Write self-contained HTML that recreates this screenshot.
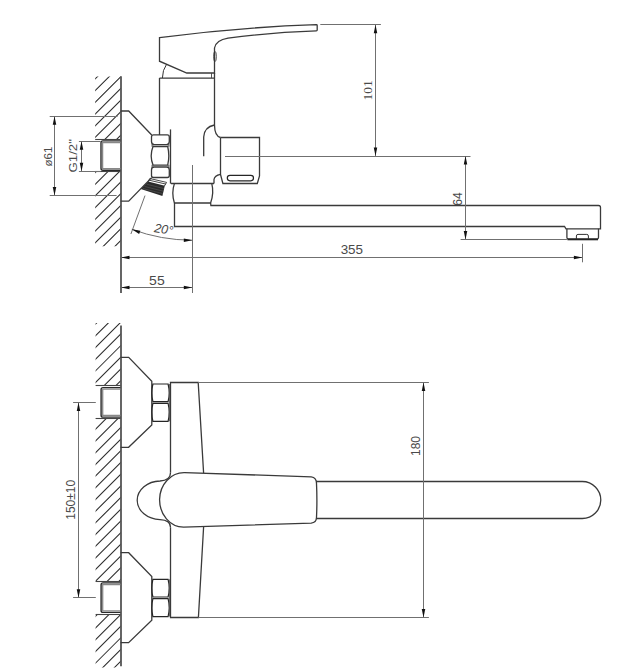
<!DOCTYPE html>
<html><head><meta charset="utf-8"><style>
html,body{margin:0;padding:0;background:#fff;}
svg{display:block;}
</style></head><body>
<svg width="641" height="670" viewBox="0 0 641 670">
<rect width="641" height="670" fill="#fff"/>
<clipPath id="h1"><rect x="95.2" y="76.5" width="25.799999999999997" height="63.0"/><rect x="95.2" y="171.5" width="25.799999999999997" height="74.80000000000001"/></clipPath>
<path clip-path="url(#h1)" d="M93.20,69.20L123.00,39.40M93.20,80.90L123.00,51.10M93.20,92.60L123.00,62.80M93.20,104.30L123.00,74.50M93.20,116.00L123.00,86.20M93.20,127.70L123.00,97.90M93.20,139.40L123.00,109.60M93.20,151.10L123.00,121.30M93.20,162.80L123.00,133.00M93.20,174.50L123.00,144.70M93.20,186.20L123.00,156.40M93.20,197.90L123.00,168.10M93.20,209.60L123.00,179.80M93.20,221.30L123.00,191.50M93.20,233.00L123.00,203.20M93.20,244.70L123.00,214.90M93.20,256.40L123.00,226.60M93.20,268.10L123.00,238.30M93.20,279.80L123.00,250.00M93.20,291.50L123.00,261.70M93.20,303.20L123.00,273.40" stroke="#2a2a2a" stroke-width="1.05" fill="none"/>
<line x1="95.2" y1="139.5" x2="121.0" y2="139.5" stroke="#444" stroke-width="1.1"/>
<line x1="95.2" y1="171.5" x2="121.0" y2="171.5" stroke="#444" stroke-width="1.1"/>
<line x1="121.0" y1="76.2" x2="121.0" y2="293" stroke="#555" stroke-width="1.8"/>
<path d="M120.4,140.9H102.9Q101,140.9 101,142.8V168.3Q101,170.2 102.9,170.2H120.4" stroke="#2a2a2a" stroke-width="1.4" fill="none"/>
<path d="M120.4,142.5H102.6V168.6H120.4" stroke="#888" stroke-width="1.3" fill="none"/>
<path d="M120.6,111H128.7L151.7,135M151.6,177.6L128.7,201.2H120.6" stroke="#3a3a3a" stroke-width="1.3" fill="none"/>
<path d="M151.4,143.6h2v3.2h-2zM167.6,143.6h2v3.2h-2zM151.4,164.8h2v3.2h-2zM167.6,164.8h2v3.2h-2z" fill="#8a8a8a"/>
<path d="M153.5,134.9H167.3Q169.3,134.9 169.3,137V141.6Q169.3,144.6 166.5,144.6H154.3Q151.5,144.6 151.5,141.6V137Q151.5,134.9 153.5,134.9Z" stroke="#3a3a3a" stroke-width="1.3" fill="none"/>
<path d="M153,146.5H167.7Q169.9,155.8 167.7,165.1H153Q149.4,155.8 153,146.5Z" stroke="#3a3a3a" stroke-width="1.3" fill="none"/>
<path d="M154.3,167H166.5Q169.3,167 169.3,170V175.4Q169.3,177.5 167.3,177.5H153.5Q151.5,177.5 151.5,175.4V170Q151.5,167 154.3,167Z" stroke="#3a3a3a" stroke-width="1.3" fill="none"/>
<polygon points="148.2,181.6 164.8,185.7 162.4,195.9 140.8,188.9" fill="#2a2a2a"/>
<path d="M146.6,184.2L163.9,188.6M144.6,186.5L163.3,191.2M143,188.6L162.8,193.6" stroke="#5a5a5a" stroke-width="0.6" fill="none"/>
<path d="M149.8,178.5L166.6,182.4L164.4,186M149.8,178.5L148.2,181.6M149.2,180.2L165.9,184.1" stroke="#333" stroke-width="0.9" fill="none"/>
<line x1="170.5" y1="129.4" x2="170.5" y2="183.6" stroke="#3a3a3a" stroke-width="1.3" fill="none"/>
<path d="M159.5,78.1H214.5M159.5,78.1V135M214.5,73V125" stroke="#3a3a3a" stroke-width="1.3" fill="none"/>
<path d="M159.5,37.6Q237.9,27.3 316.4,24.7Q317.2,24.7 317.2,25.5V30.1Q317.2,30.9 316.4,30.9Q270,32.5 228,38.2Q216,40.2 214.5,48V73H186.8L159.5,61.2Z" stroke="#3a3a3a" stroke-width="1.3" fill="none"/>
<ellipse cx="215" cy="56.5" rx="1.3" ry="5" stroke="#333" stroke-width="0.9" fill="none"/>
<line x1="211.5" y1="73" x2="211.5" y2="78" stroke="#444" stroke-width="0.9"/>
<path d="M166.5,64.4Q162.5,70 162.4,78" stroke="#333" stroke-width="1" fill="none"/>
<path d="M214.5,125Q204.2,127 203.7,137V156.2" stroke="#3a3a3a" stroke-width="1.3" fill="none"/>
<path d="M214.5,125Q214.6,136 220.5,137.5" stroke="#3a3a3a" stroke-width="1.3" fill="none"/>
<path d="M220.5,137.5H259.5V176L257.3,183.5H222.9L220.5,174.3V137.5" stroke="#3a3a3a" stroke-width="1.3" fill="none"/>
<rect x="227.3" y="175.4" width="26.2" height="5.4" rx="2.7" stroke="#262626" stroke-width="1.2" fill="none"/>
<path d="M220.5,174.3Q214.5,175.5 214,179.5V183.5" stroke="#3a3a3a" stroke-width="1.3" fill="none"/>
<line x1="170.9" y1="183.5" x2="214" y2="183.5" stroke="#3a3a3a" stroke-width="1.3" fill="none"/>
<path d="M174.4,183.6Q171.2,193 174.4,203M211.8,183.6Q214.2,193 210.6,203M174.4,203H210.6" stroke="#3a3a3a" stroke-width="1.3" fill="none"/>
<path d="M174.5,203V226.5H564.5L566,228.8H600.5V207.5Q600.5,205.5 598.5,205.5H210.9L210.6,203" stroke="#3a3a3a" stroke-width="1.3" fill="none"/>
<path d="M566.9,228.8V237.6Q566.9,239 568.3,239H597.1Q598.5,239 598.5,237.6V228.8" stroke="#3a3a3a" stroke-width="1.3" fill="none"/>
<line x1="567.5" y1="239.5" x2="598" y2="239.5" stroke="#222" stroke-width="1.6"/>
<path d="M576.4,239V236Q576.4,234.4 578,234.4H586.8Q588.4,234.4 588.4,236V239" stroke="#333" stroke-width="1" fill="none"/>
<line x1="320.3" y1="24.5" x2="380.9" y2="24.5" stroke="#707070" stroke-width="1" fill="none"/>
<line x1="375.5" y1="24.7" x2="375.5" y2="156" stroke="#707070" stroke-width="1" fill="none"/>
<polygon points="375.50,24.70 377.25,33.20 373.75,33.20" fill="#111"/>
<polygon points="375.50,156.00 373.75,147.50 377.25,147.50" fill="#111"/>
<line x1="225" y1="156.5" x2="470.5" y2="156.5" stroke="#707070" stroke-width="1" fill="none"/>
<text transform="translate(372,90.35) rotate(-90) scale(1.07,1)" text-anchor="middle" font-family="Liberation Serif, sans-serif" font-size="12.6" fill="#4a4a4a" >101</text>
<line x1="465.5" y1="156" x2="465.5" y2="239.4" stroke="#707070" stroke-width="1" fill="none"/>
<polygon points="465.50,156.00 467.25,164.50 463.75,164.50" fill="#111"/>
<polygon points="465.50,239.40 463.75,230.90 467.25,230.90" fill="#111"/>
<line x1="460.6" y1="239.5" x2="566.9" y2="239.5" stroke="#707070" stroke-width="1" fill="none"/>
<text transform="translate(462.2,199.0) rotate(-90)" text-anchor="middle" font-family="Liberation Sans, sans-serif" font-size="12" fill="#4a4a4a" >64</text>
<line x1="121.0" y1="257.5" x2="582.4" y2="257.5" stroke="#707070" stroke-width="1" fill="none"/>
<polygon points="121.00,257.50 129.50,255.75 129.50,259.25" fill="#111"/>
<polygon points="582.40,257.50 573.90,259.25 573.90,255.75" fill="#111"/>
<line x1="582.5" y1="243.8" x2="582.5" y2="262.3" stroke="#707070" stroke-width="1" fill="none"/>
<text transform="translate(351.85,254.2) scale(1.12,1)" text-anchor="middle" font-family="Liberation Sans, sans-serif" font-size="12" fill="#4a4a4a" >355</text>
<line x1="121.0" y1="287.5" x2="192.3" y2="287.5" stroke="#707070" stroke-width="1" fill="none"/>
<polygon points="121.00,287.50 129.50,285.75 129.50,289.25" fill="#111"/>
<polygon points="192.30,287.50 183.80,289.25 183.80,285.75" fill="#111"/>
<line x1="192.5" y1="165" x2="192.5" y2="293" stroke="#707070" stroke-width="1" fill="none"/>
<text transform="translate(156.9,284.5) scale(1.17,1)" text-anchor="middle" font-family="Liberation Sans, sans-serif" font-size="12" fill="#4a4a4a" >55</text>
<line x1="49.7" y1="116.5" x2="117.5" y2="116.5" stroke="#707070" stroke-width="1" fill="none"/>
<line x1="49.7" y1="195.5" x2="116.6" y2="195.5" stroke="#707070" stroke-width="1" fill="none"/>
<line x1="54.5" y1="116.3" x2="54.5" y2="195.5" stroke="#707070" stroke-width="1" fill="none"/>
<polygon points="54.50,116.30 56.25,124.80 52.75,124.80" fill="#111"/>
<polygon points="54.50,195.50 52.75,187.00 56.25,187.00" fill="#111"/>
<text transform="translate(51.6,156.5) rotate(-90)" text-anchor="middle" font-family="Liberation Sans, sans-serif" font-size="11.5" fill="#4a4a4a" >&#248;61</text>
<line x1="78.9" y1="141.5" x2="100.7" y2="141.5" stroke="#707070" stroke-width="1" fill="none"/>
<line x1="78.9" y1="171.5" x2="100.7" y2="171.5" stroke="#707070" stroke-width="1" fill="none"/>
<line x1="81.5" y1="141.2" x2="81.5" y2="171.2" stroke="#707070" stroke-width="1" fill="none"/>
<polygon points="81.50,141.20 83.25,149.70 79.75,149.70" fill="#111"/>
<polygon points="81.50,171.20 79.75,162.70 83.25,162.70" fill="#111"/>
<text transform="translate(77.4,155.8) rotate(-90) scale(1.18,1)" text-anchor="middle" font-family="Liberation Sans, sans-serif" font-size="11.2" fill="#4a4a4a" >G1/2"</text>
<line x1="145" y1="195.6" x2="130.9" y2="234" stroke="#707070" stroke-width="1" fill="none"/>
<path d="M131.80,229.30A173.4,173.4 0 0 0 192.30,240.20" stroke="#707070" stroke-width="1" fill="none"/>
<polygon points="131.80,229.30 140.38,230.63 139.15,233.91" fill="#111"/>
<polygon points="192.30,240.20 183.80,241.95 183.80,238.45" fill="#111"/>
<text transform="translate(163,233.5) rotate(9)" text-anchor="middle" font-family="Liberation Sans, sans-serif" font-size="12.5" fill="#4a4a4a" font-style="italic">20&#176;</text>
<clipPath id="h2"><rect x="95.6" y="323.1" width="25.400000000000006" height="62.799999999999955"/><rect x="95.6" y="418.8" width="25.400000000000006" height="162.40000000000003"/><rect x="95.6" y="614.1" width="25.400000000000006" height="53.299999999999955"/></clipPath>
<path clip-path="url(#h2)" d="M93.60,314.32L123.00,284.92M93.60,326.01L123.00,296.61M93.60,337.70L123.00,308.30M93.60,349.39L123.00,319.99M93.60,361.08L123.00,331.68M93.60,372.77L123.00,343.37M93.60,384.46L123.00,355.06M93.60,396.15L123.00,366.75M93.60,407.84L123.00,378.44M93.60,419.53L123.00,390.13M93.60,431.22L123.00,401.82M93.60,442.91L123.00,413.51M93.60,454.60L123.00,425.20M93.60,466.29L123.00,436.89M93.60,477.98L123.00,448.58M93.60,489.67L123.00,460.27M93.60,501.36L123.00,471.96M93.60,513.05L123.00,483.65M93.60,524.74L123.00,495.34M93.60,536.43L123.00,507.03M93.60,548.12L123.00,518.72M93.60,559.81L123.00,530.41M93.60,571.50L123.00,542.10M93.60,583.19L123.00,553.79M93.60,594.88L123.00,565.48M93.60,606.57L123.00,577.17M93.60,618.26L123.00,588.86M93.60,629.95L123.00,600.55M93.60,641.64L123.00,612.24M93.60,653.33L123.00,623.93M93.60,665.02L123.00,635.62M93.60,676.71L123.00,647.31M93.60,688.40L123.00,659.00M93.60,700.09L123.00,670.69M93.60,711.78L123.00,682.38M93.60,723.47L123.00,694.07" stroke="#2a2a2a" stroke-width="1.05" fill="none"/>
<line x1="95.6" y1="385.5" x2="121.0" y2="385.5" stroke="#444" stroke-width="1.1"/>
<line x1="95.6" y1="418.5" x2="121.0" y2="418.5" stroke="#444" stroke-width="1.1"/>
<line x1="95.6" y1="581.5" x2="121.0" y2="581.5" stroke="#444" stroke-width="1.1"/>
<line x1="95.6" y1="614.5" x2="121.0" y2="614.5" stroke="#444" stroke-width="1.1"/>
<line x1="121.0" y1="325.6" x2="121.0" y2="666.2" stroke="#555" stroke-width="1.8"/>
<g transform="translate(0,0)">
<path d="M120.4,387.6H103Q101.1,387.6 101.1,389.5V415.2Q101.1,417.1 103,417.1H120.4" stroke="#2a2a2a" stroke-width="1.4" fill="none"/>
<path d="M120.4,389.2H102.7V415.5H120.4" stroke="#888" stroke-width="1.3" fill="none"/>
<path d="M120.6,357.4H128.7L151.8,381.3V424.9L128.6,447.3H120.6" stroke="#3a3a3a" stroke-width="1.3" fill="none"/>
<path d="M152.9,384H168.1Q170.3,392.85 168.1,401.7H152.9Q150.7,392.85 152.9,384ZM152.9,403.4H168.1Q170.3,412.35 168.1,421.3H152.9Q150.7,412.35 152.9,403.4Z" stroke="#262626" stroke-width="1.2" fill="none"/>
<path d="M169.6,384V421.3" stroke="#555" stroke-width="0.9" fill="none"/>
</g>
<g transform="translate(0,195.3)">
<path d="M120.4,387.6H103Q101.1,387.6 101.1,389.5V415.2Q101.1,417.1 103,417.1H120.4" stroke="#2a2a2a" stroke-width="1.4" fill="none"/>
<path d="M120.4,389.2H102.7V415.5H120.4" stroke="#888" stroke-width="1.3" fill="none"/>
<path d="M120.6,357.4H128.7L151.8,381.3V424.9L128.6,447.3H120.6" stroke="#3a3a3a" stroke-width="1.3" fill="none"/>
<path d="M152.9,384H168.1Q170.3,392.85 168.1,401.7H152.9Q150.7,392.85 152.9,384ZM152.9,403.4H168.1Q170.3,412.35 168.1,421.3H152.9Q150.7,412.35 152.9,403.4Z" stroke="#262626" stroke-width="1.2" fill="none"/>
<path d="M169.6,384V421.3" stroke="#555" stroke-width="0.9" fill="none"/>
</g>
<path d="M170.5,472.8V382.5H198.2L203.6,473M203.6,527L198.4,617.5H170.5V527.2" stroke="#3a3a3a" stroke-width="1.3" fill="none"/>
<path d="M170.5,472.8C170.5,478.5 166.3,480.7 160,481C147.5,481.2 137.2,489.7 137.2,500.3C137.2,510.9 147.5,519.4 160,519.6C166.3,519.9 170.5,522 170.5,527.2" stroke="#3a3a3a" stroke-width="1.3" fill="none"/>
<path d="M184.6,472.6L311.2,476.9Q316.5,477.5 316.5,483.5Q317.3,500.5 316.5,517.5Q316.3,522.6 311.2,523.1L183.6,527.2A24.5,27.3 0 0 1 184.6,472.6Z" stroke="#3a3a3a" stroke-width="1.3" fill="none"/>
<path d="M316.5,481.5H582.3A18.5,18.5 0 0 1 582.3,518.5H316.5" stroke="#3a3a3a" stroke-width="1.3" fill="none"/>
<line x1="198.2" y1="382.5" x2="428.9" y2="382.5" stroke="#707070" stroke-width="1" fill="none"/>
<line x1="198.4" y1="617.5" x2="428.9" y2="617.5" stroke="#707070" stroke-width="1" fill="none"/>
<line x1="423.5" y1="382.5" x2="423.5" y2="617.5" stroke="#707070" stroke-width="1" fill="none"/>
<polygon points="423.50,382.50 425.25,391.00 421.75,391.00" fill="#111"/>
<polygon points="423.50,617.50 421.75,609.00 425.25,609.00" fill="#111"/>
<text transform="translate(420.3,446) rotate(-90)" text-anchor="middle" font-family="Liberation Sans, sans-serif" font-size="12" fill="#4a4a4a" >180</text>
<line x1="73.1" y1="402.5" x2="95.8" y2="402.5" stroke="#707070" stroke-width="1" fill="none"/>
<line x1="73.1" y1="597.5" x2="95.8" y2="597.5" stroke="#707070" stroke-width="1" fill="none"/>
<line x1="78.5" y1="402.5" x2="78.5" y2="597.8" stroke="#707070" stroke-width="1" fill="none"/>
<polygon points="78.50,402.50 80.25,411.00 76.75,411.00" fill="#111"/>
<polygon points="78.50,597.80 76.75,589.30 80.25,589.30" fill="#111"/>
<text transform="translate(74.8,499.8) rotate(-90)" text-anchor="middle" font-family="Liberation Sans, sans-serif" font-size="12" fill="#4a4a4a" >150&#177;10</text>
</svg>
</body></html>
